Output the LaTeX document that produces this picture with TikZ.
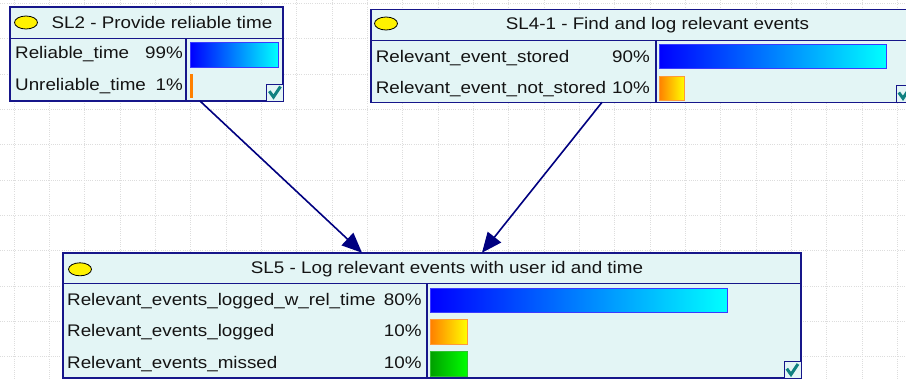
\documentclass[tikz,border=0pt]{standalone}
\usepackage{fontspec}
\setmainfont[FakeStretch=1.12]{Liberation Sans}
\usetikzlibrary{arrows.meta,calc,shapes.geometric}
\definecolor{boxfill}{HTML}{E3F5F5}
\definecolor{framec}{HTML}{16168A}
\definecolor{arrowc}{HTML}{000080}
\definecolor{gridc}{HTML}{DDDDDD}
\definecolor{checkc}{HTML}{108080}
\definecolor{bluebd}{HTML}{3A3AFF}
\definecolor{orangebd}{HTML}{FF9A3A}
\definecolor{greenbd}{HTML}{30C030}
\begin{document}
\begin{tikzpicture}[x=1bp,y=-1bp,
  netbox/.style={draw=framec, fill=boxfill, line width=1.6bp, rectangle, inner sep=0pt, outer sep=0pt, anchor=north west},
  sepline/.style={draw=framec, line width=1.6bp},
  gridline/.style={draw=gridc, line width=0.8bp, dash pattern=on 1bp off 1.2bp},
  lbl/.style={inner sep=0pt, font=\fontsize{16.8bp}{20bp}\selectfont, text=black!92},
  ell/.style={ellipse, draw=black, fill=yellow, line width=0.8bp, minimum width=23bp, minimum height=13bp, inner sep=0pt},
  chkbox/.style={rectangle, draw=framec, fill=boxfill, line width=1.4bp, minimum size=17bp, inner sep=0pt, anchor=north west},
  checkmark/.style={draw=checkc, line width=3bp},
  bluebar/.style={draw=bluebd, line width=1bp, left color=blue, right color=cyan},
  orangebar/.style={draw=orangebd, line width=1bp, left color={rgb,255:red,255;green,128;blue,0}, right color=yellow},
  greenbar/.style={draw=greenbd, line width=1bp, left color={rgb,255:red,0;green,160;blue,0}, right color={rgb,255:red,0;green,255;blue,0}},
  conn/.style={draw=arrowc, line width=1.6bp, -{Triangle[length=20bp,width=17bp]}}
]
\useasboundingbox (0,0) rectangle (906,379);
\fill[white] (0,0) rectangle (906,379);
\clip (0,0) rectangle (906,379);
% grid
\foreach \gx in {0,...,25} \draw[gridline] ({14+35.333*\gx},0) -- ({14+35.333*\gx},379);
\foreach \gy in {0,...,10} \draw[gridline] (0,{3.33+35.333*\gy}) -- (906,{3.33+35.333*\gy});

% ---- SL2
\node[netbox, minimum width=273bp, minimum height=94bp] (sl2) at (10,7) {};
\draw[sepline] (10,38.5) -- (283,38.5);
\draw[sepline] (186,38.5) -- (186,101);
\node[ell] (e2) at (26,22.5) {};
\node[lbl, anchor=base] (t2) at (162,28) {SL2 - Provide reliable time};
\node[lbl, anchor=base west] (r2a) at (15,58.3) {Reliable\_time};
\node[lbl, anchor=base east] (p2a) at (183,58.3) {99\%};
\node[lbl, anchor=base west] (r2b) at (15,90.5) {Unreliable\_time};
\node[lbl, anchor=base east] (p2b) at (183,90.5) {1\%};
\draw[bluebar] (190.5,42.5) rectangle (278,67);
\fill[orange] (190,74) rectangle (192.5,98);
\node[chkbox] (c2) at (266,83.5) {};
\draw[checkmark] ($(c2.north west)+(3.3,7.7)$) -- ($(c2.north west)+(7.5,13.5)$) -- ($(c2.north west)+(14.5,3)$);

% ---- SL4-1
\node[netbox, minimum width=543bp, minimum height=93bp] (sl41) at (371,9.3) {};
\draw[sepline] (371,40.5) -- (914,40.5);
\draw[sepline] (655.7,40.5) -- (655.7,102.3);
\node[ell] (e41) at (386,23.5) {};
\node[lbl, anchor=base] (t41) at (657.5,29.5) {SL4-1 - Find and log relevant events};
\node[lbl, anchor=base west] (r41a) at (375.7,62.3) {Relevant\_event\_stored};
\node[lbl, anchor=base east] (p41a) at (650,62.3) {90\%};
\node[lbl, anchor=base west] (r41b) at (375.7,93.3) {Relevant\_event\_not\_stored};
\node[lbl, anchor=base east] (p41b) at (650,93.3) {10\%};
\draw[bluebar] (659,44.5) rectangle (886,68);
\draw[orangebar] (659,76.5) rectangle (684.5,100);
\node[chkbox] (c41) at (895.5,84.8) {};
\draw[checkmark] ($(c41.north west)+(3.3,7.7)$) -- ($(c41.north west)+(7.5,13.5)$) -- ($(c41.north west)+(14.5,3)$);

% ---- SL5
\node[netbox, minimum width=738bp, minimum height=125bp] (sl5) at (63,252.7) {};
\draw[sepline] (63,283.5) -- (801,283.5);
\draw[sepline] (426.7,283.5) -- (426.7,377.7);
\node[ell] (e5) at (80,269.3) {};
\node[lbl, anchor=base] (t5) at (447,273) {SL5 - Log relevant events with user id and time};
\node[lbl, anchor=base west] (r5a) at (67,305) {Relevant\_events\_logged\_w\_rel\_time};
\node[lbl, anchor=base east] (p5a) at (421.7,305) {80\%};
\node[lbl, anchor=base west] (r5b) at (67,336.7) {Relevant\_events\_logged};
\node[lbl, anchor=base east] (p5b) at (421.7,336.7) {10\%};
\node[lbl, anchor=base west] (r5c) at (67,368) {Relevant\_events\_missed};
\node[lbl, anchor=base east] (p5c) at (421.7,368) {10\%};
\draw[bluebar] (430.5,288.5) rectangle (727,312);
\draw[orangebar] (430.5,319.5) rectangle (467.5,344);
\draw[greenbar] (430.5,351.5) rectangle (467.5,376);
\node[chkbox] (c5) at (783.5,361) {};
\draw[checkmark] ($(c5.north west)+(3.3,7.7)$) -- ($(c5.north west)+(7.5,13.5)$) -- ($(c5.north west)+(14.5,3)$);

% ---- connectors
\draw[conn] ($(sl2.south west)+(190,0)$) -- ($(sl5.north west)+(299,0)$);
\draw[conn] ($(sl41.south west)+(231,0)$) -- ($(sl5.north west)+(419,0)$);
\end{tikzpicture}
\end{document}
